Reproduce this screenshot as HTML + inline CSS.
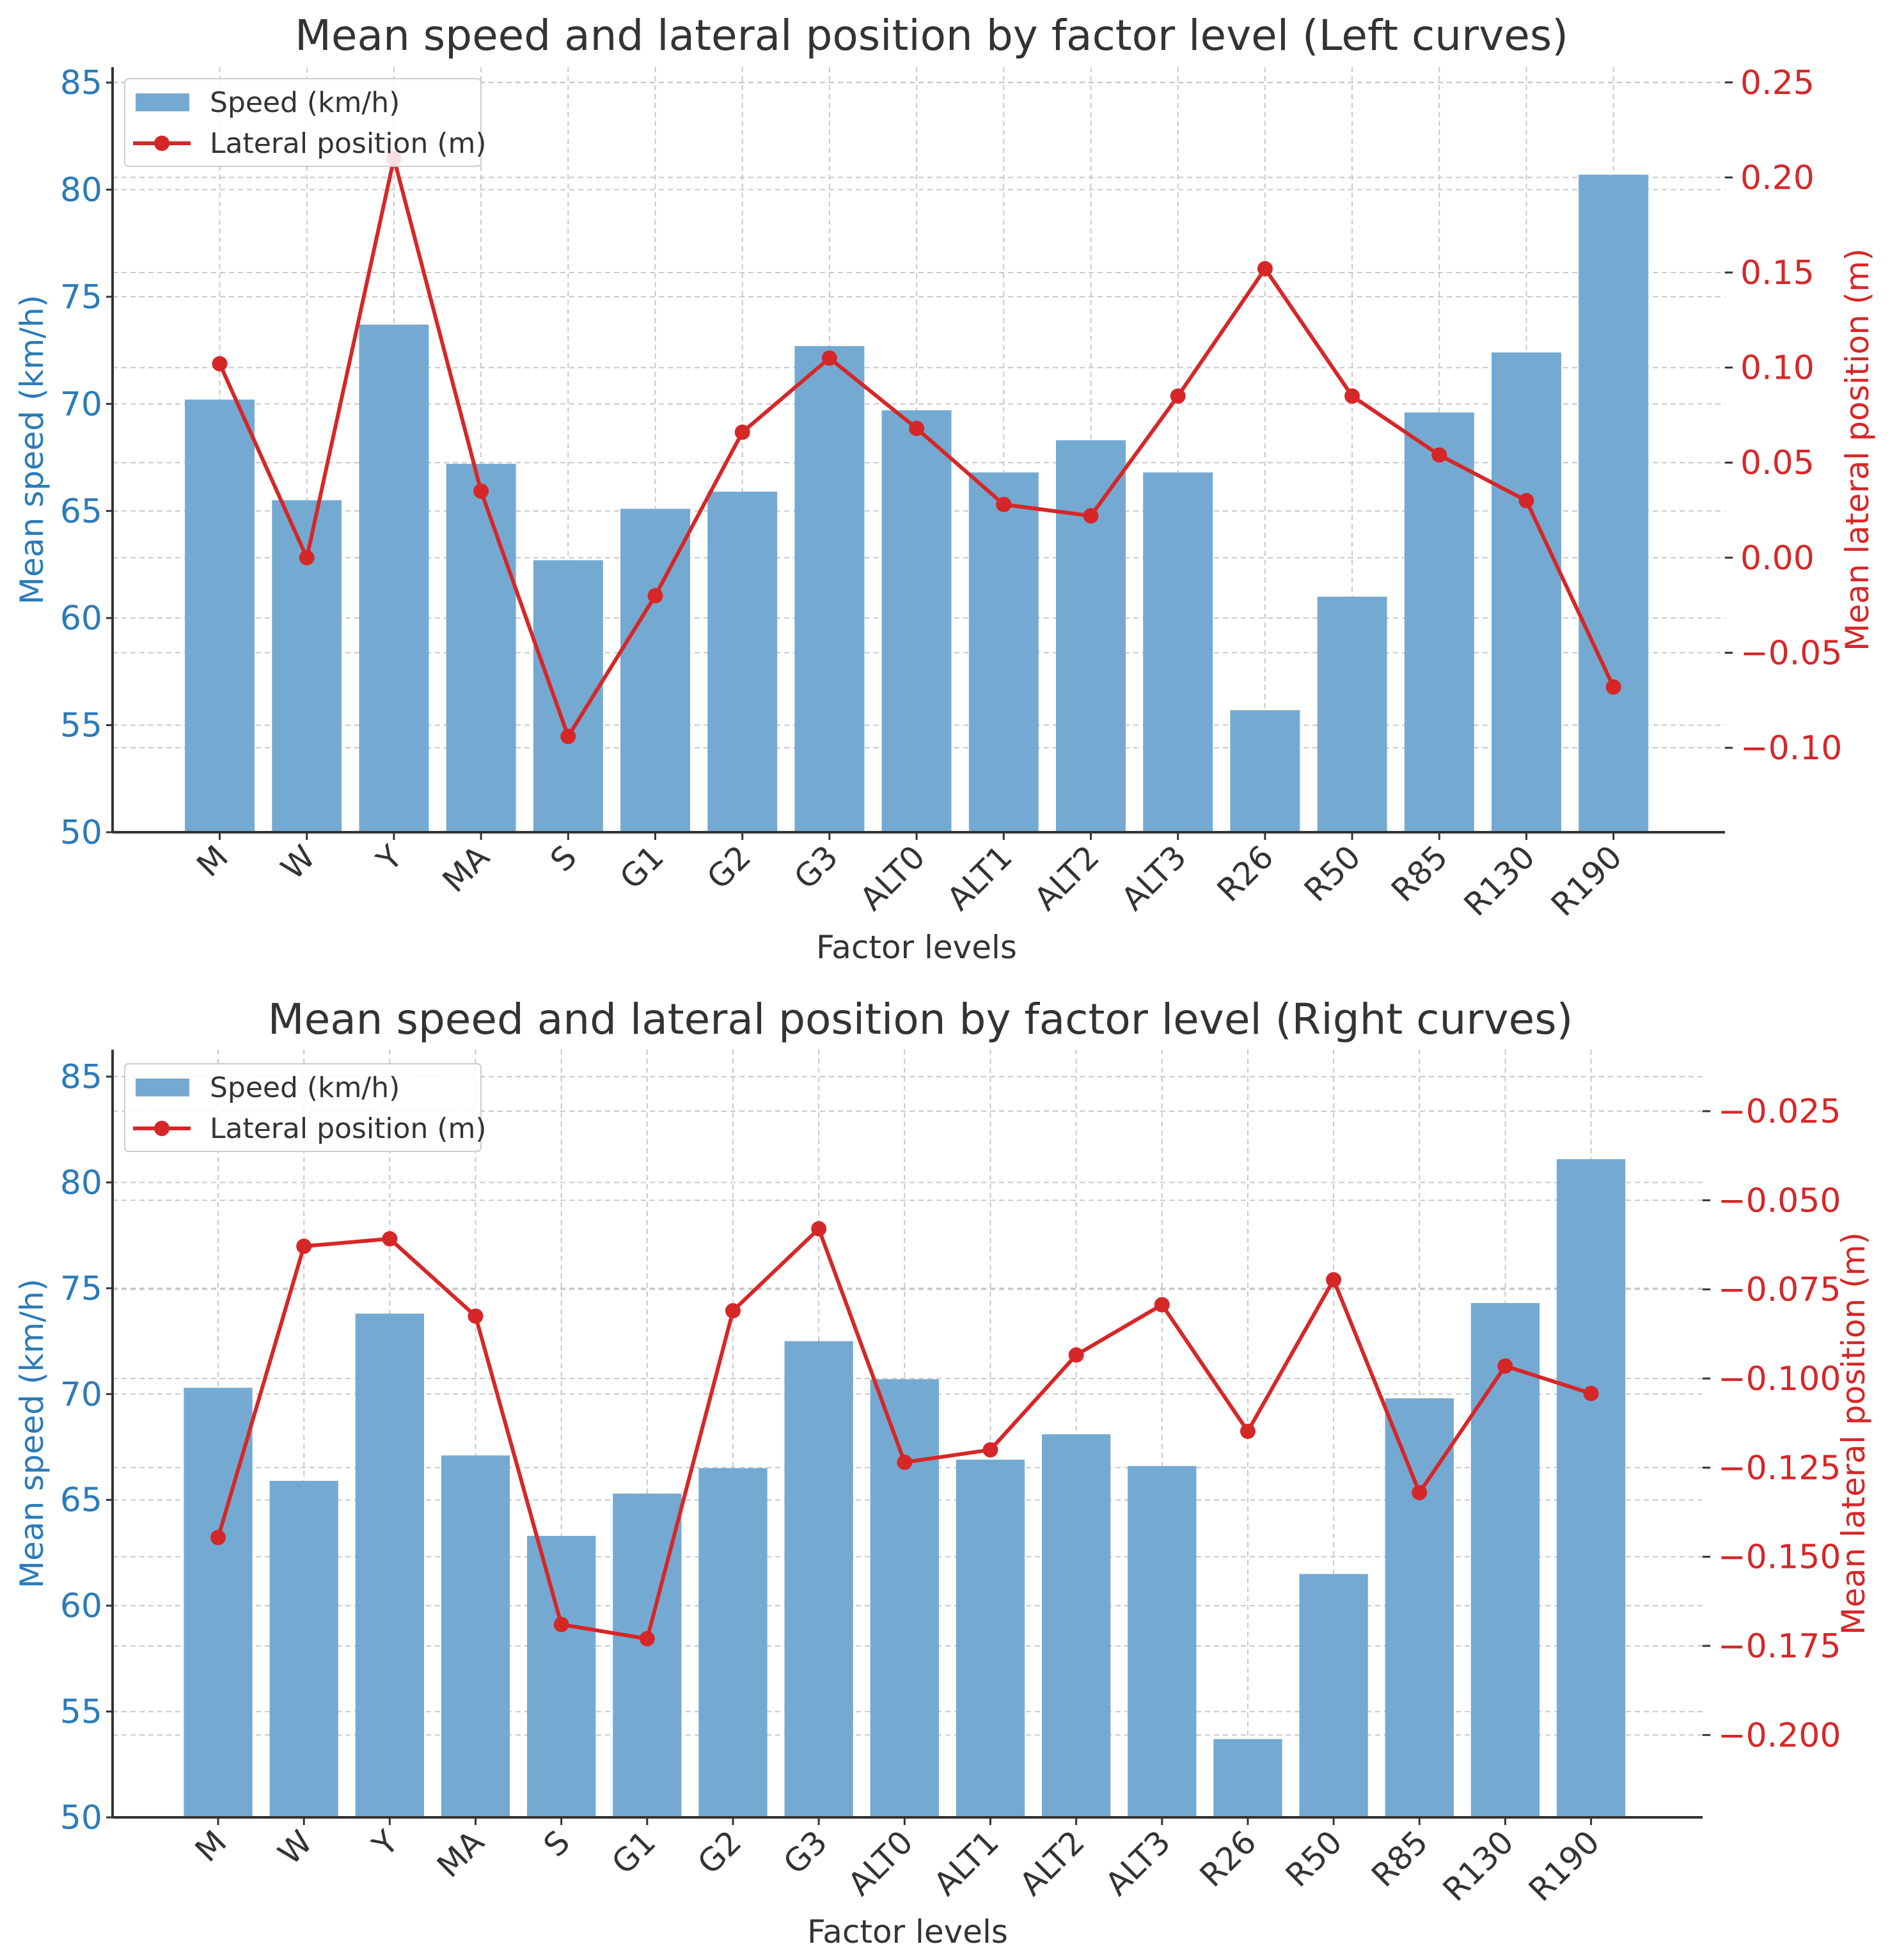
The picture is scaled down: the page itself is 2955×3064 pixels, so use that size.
<!DOCTYPE html>
<html><head><meta charset="utf-8"><style>
html,body{margin:0;padding:0;background:#fff;}
svg{display:block;font-family:"DejaVu Sans","Liberation Sans",sans-serif;}
</style></head><body>
<svg id="chart" width="2955" height="3064" viewBox="0 0 2955 3064" xmlns="http://www.w3.org/2000/svg"></svg>
<script>
const categories = ["M","W","Y","MA","S","G1","G2","G3","ALT0","ALT1","ALT2","ALT3","R26","R50","R85","R130","R190"];
const speedLeft = [70.2,65.5,73.7,67.2,62.7,65.1,65.9,72.7,69.7,66.8,68.3,66.8,55.7,61.0,69.6,72.4,80.7];
const latLeft = [0.102,0.0,0.210,0.035,-0.094,-0.020,0.066,0.105,0.068,0.028,0.022,0.085,0.152,0.085,0.054,0.030,-0.068];
const speedRight = [70.3,65.9,73.8,67.1,63.3,65.3,66.5,72.5,70.7,66.9,68.1,66.6,53.7,61.5,69.8,74.3,81.1];
const latRight = [-0.1446,-0.0629,-0.0608,-0.0825,-0.169,-0.173,-0.081,-0.058,-0.1235,-0.120,-0.0934,-0.0793,-0.1148,-0.0723,-0.132,-0.0965,-0.1042];
const speedTicks = [50,55,60,65,70,75,80,85];
const latTicksLeft = [-0.10,-0.05,0.00,0.05,0.10,0.15,0.20,0.25];
const latTicksRight = [-0.200,-0.175,-0.150,-0.125,-0.100,-0.075,-0.050,-0.025];

const NS = "http://www.w3.org/2000/svg";
const svg = document.getElementById("chart");
function el(tag, attrs, parent, text){
  const e = document.createElementNS(NS, tag);
  for (const k in attrs) e.setAttribute(k, attrs[k]);
  if (text !== undefined) e.textContent = text;
  (parent || svg).appendChild(e);
  return e;
}
function fmt(v, d){ const s = Math.abs(v).toFixed(d); return (v < -1e-9 ? "\u2212" : "") + s; }

function drawPanel(p){
  const g = el("g", {});
  
  
  const x = i => p.x0 + (i - p.xmin) / (p.xmax - p.xmin) * (p.x1 - p.x0);
  const yL = v => p.y1 - (v - p.lmin) / (p.lmax - p.lmin) * (p.y1 - p.y0);
  const yR = v => p.y1 - (v - p.rmin) / (p.rmax - p.rmin) * (p.y1 - p.y0);
  const grid = {stroke:"#c8c8c8","stroke-width":2,"stroke-dasharray":"8,6"};
  categories.forEach((c,i)=>{ const l = el("line", Object.assign({x1:x(i),x2:x(i),y1:p.y0,y2:p.y1},grid), g);
      });
  speedTicks.forEach(t=>{ const l = el("line", Object.assign({x1:p.x0,x2:p.x1,y1:yL(t),y2:yL(t)},grid), g);
      });
  p.rticks.forEach(t=>{ const l = el("line", Object.assign({x1:p.x0,x2:p.x1,y1:yR(t),y2:yR(t)},grid), g);
      });
  const bw = 0.8 * (x(1) - x(0));
  p.speed.forEach((v,i)=>{
    const b = el("rect", {x:x(i)-bw/2, y:yL(v), width:bw, height:p.y1-yL(v), fill:"#74aad2"}, g);
    
    
  });
  const pts = p.lat.map((v,i)=>x(i)+","+yR(v)).join(" ");
  const pl = el("polyline", {points:pts, fill:"none", stroke:"#d62728","stroke-width":6}, g);
  
  
  p.lat.forEach((v,i)=>{
    const c = el("circle", {cx:x(i), cy:yR(v), r:12, fill:"#d62728"}, g);
    
    
  });
  const ax = el("line", {x1:p.x0,x2:p.x1,y1:p.y1,y2:p.y1,stroke:"#333","stroke-width":4}, g);
   
  const la = el("line", {x1:p.x0,x2:p.x0,y1:p.y0,y2:p.y1,stroke:"#333","stroke-width":4}, g);
   
  speedTicks.forEach(t=>{
    el("line",{x1:p.x0-10,x2:p.x0,y1:yL(t),y2:yL(t),stroke:"#333","stroke-width":3},g);
    const tx = el("text",{x:p.x0-16,y:yL(t)+18,"text-anchor":"end","font-size":52,fill:"#2b7bb9"},g,String(t));
     
  });
  p.rticks.forEach(t=>{
    el("line",{x1:p.x1,x2:p.x1+12,y1:yR(t),y2:yR(t),stroke:"#333","stroke-width":3},g);
    const tx = el("text",{x:p.x1+24,y:yR(t)+18,"font-size":52,fill:"#d62728"},g,fmt(t,p.rdec));
     
  });
  categories.forEach((c,i)=>{
    el("line",{x1:x(i),x2:x(i),y1:p.y1,y2:p.y1+12,stroke:"#333","stroke-width":3},g);
    const tx = el("text",{x:x(i)+16,y:p.y1+42,"text-anchor":"end","font-size":50,fill:"#333",
      transform:"rotate(-45 "+(x(i)+16)+" "+(p.y1+42)+")"},g,c);
     
  });
  const tt = el("text",{x:(p.x0+p.x1)/2+20,y:p.titleY,"text-anchor":"middle","font-size":66,fill:"#333"},g,p.title);
   
  const xl = el("text",{x:p.xlabX,y:p.xlabY,"text-anchor":"middle","font-size":50,fill:"#333"},g,"Factor levels");
   
  const cy = (p.y0+p.y1)/2;
  const yl = el("text",{x:50,y:cy,"text-anchor":"middle","font-size":50,fill:"#2b7bb9",transform:"rotate(-90 50 "+cy+")","dominant-baseline":"central"},g,"Mean speed (km/h)");
   
  const ry = el("text",{x:p.rlabX,y:cy,"text-anchor":"middle","font-size":50,fill:"#d62728",transform:"rotate(-90 "+p.rlabX+" "+cy+")","dominant-baseline":"central"},g,"Mean lateral position (m)");
   
  const lg = el("g",{},g);
   
  el("rect",{x:195,y:p.legY,width:557,height:137,fill:"#fff","fill-opacity":0.85,stroke:"#ccc","stroke-width":2,rx:6},lg);
  el("rect",{x:212,y:p.legY+23,width:84,height:28,fill:"#74aad2"},lg);
  const t1 = el("text",{x:328,y:p.legY+52,"font-size":44,fill:"#333"},lg,"Speed (km/h)");
   
  el("line",{x1:208,x2:298,y1:p.legY+101,y2:p.legY+101,stroke:"#d62728","stroke-width":6},lg);
  el("circle",{cx:253,cy:p.legY+101,r:12,fill:"#d62728"},lg);
  const t2 = el("text",{x:328,y:p.legY+116,"font-size":44,fill:"#333"},lg,"Lateral position (m)");
   
}

drawPanel({name:"left-curves-panel", title:"Mean speed and lateral position by factor level (Left curves)",
  x0:176,x1:2697,y0:105,y1:1301,xmin:-1.23,xmax:17.28,lmin:50,lmax:85.72,
  rmin:-0.1444,rmax:0.258,rticks:latTicksLeft,rdec:2,speed:speedLeft,lat:latLeft,
  titleY:78,xlabX:1433,xlabY:1498,rlabX:2904,legY:123});
drawPanel({name:"right-curves-panel", title:"Mean speed and lateral position by factor level (Right curves)",
  x0:176,x1:2662,y0:1641,y1:2841,xmin:-1.23,xmax:17.3,lmin:50,lmax:86.27,
  rmin:-0.2231,rmax:-0.00777,rticks:latTicksRight,rdec:3,speed:speedRight,lat:latRight,
  titleY:1616,xlabX:1419,xlabY:3037,rlabX:2898,legY:1663});
</script>
</body></html>
